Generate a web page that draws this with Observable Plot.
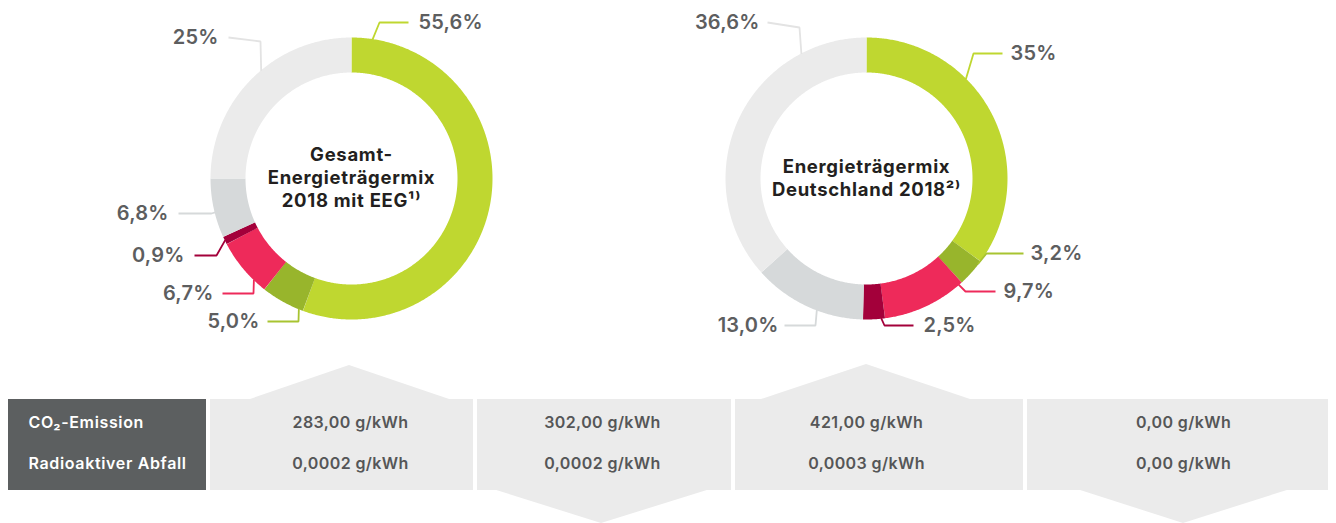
<!DOCTYPE html>
<html>
<head>
<meta charset="utf-8">
<script src="https://cdn.jsdelivr.net/npm/d3@7"></script>
<script src="https://cdn.jsdelivr.net/npm/@observablehq/plot@0.6"></script>
<style>
  html, body { margin: 0; padding: 0; background: #ffffff; }
  #chart svg { display: block; }
</style>
</head>
<body>
<div id="chart"></div>
<script>
// ---------------- DATA ----------------
const segments = ["Grün", "Olivgrün", "Rot", "Dunkelrot", "Grau", "Hellgrau"];
const mixEEG = [55.6, 5.0, 6.7, 0.9, 6.8, 25];
const mixDE = [35, 3.2, 9.7, 2.5, 13.0, 36.6];
const labelsEEG = ["55,6%", "5,0%", "6,7%", "0,9%", "6,8%", "25%"];
const labelsDE = ["35%", "3,2%", "9,7%", "2,5%", "13,0%", "36,6%"];
const donutTitles = ["Gesamt-\nEnergieträgermix\n2018 mit EEG¹⁾", "Energieträgermix\nDeutschland 2018²⁾"];
const rowLabels = ["CO₂-Emission", "Radioaktiver Abfall"];
const co2Values = ["283,00 g/kWh", "302,00 g/kWh", "421,00 g/kWh", "0,00 g/kWh"];
const wasteValues = ["0,0002 g/kWh", "0,0002 g/kWh", "0,0003 g/kWh", "0,00 g/kWh"];

// ---------------- STYLE / LAYOUT ----------------
const W = 1336, H = 523;
const FONT = "Inter, 'Open Sans', 'DejaVu Sans', sans-serif";
const palette = ["#bfd730", "#98b52c", "#ee2a5a", "#a3003a", "#d6d9da", "#ebebeb"];
const leaderPalette = ["#bfd730", "#a8c431", "#ee2a5a", "#a3003a", "#d6d9da", "#e3e3e3"];
const labelColor = "#5d5e5f";
const R_OUT = 141, R_IN = 106;
const TITLE_SIZE = 18.5, LABEL_SIZE = 20, TABLE_SIZE = 16, ROWLABEL_SIZE = 16.01;
const donuts = [
  {cx: 351, cy: 178, values: mixEEG, labels: labelsEEG, title: donutTitles[0], titleY: 176.5},
  {cx: 866, cy: 178, values: mixDE, labels: labelsDE, title: donutTitles[1], titleY: 176.5}
];
const leaderLayout = [
  [
    {angle: 8.6, path: [[379, 22], [408, 22]], text: [418, 22], anchor: "start"},
    {angle: 202, path: [[298, 321], [267, 321]], text: [259, 321], anchor: "end"},
    {angle: 224, path: [[253, 293], [222, 293]], text: [213, 293], anchor: "end"},
    {angle: 244, path: [[216, 255], [194, 255]], text: [184, 255], anchor: "end"},
    {angle: 256, path: [[211, 213], [178, 213]], text: [168, 213], anchor: "end"},
    {angle: 320, path: [[260, 41], [228, 37]], text: [218, 37], anchor: "end"}
  ],
  [
    {angle: 45, path: [[973, 53], [1002, 53]], text: [1010, 53], anchor: "start"},
    {angle: 127.5, path: [[986, 253], [1023, 253]], text: [1030, 253], anchor: "start"},
    {angle: 139, path: [[965, 291], [995, 291]], text: [1003, 291], anchor: "start"},
    {angle: 174, path: [[884, 325], [913, 325]], text: [923, 325], anchor: "start"},
    {angle: 200.7, path: [[815, 325], [784, 325]], text: [778, 325], anchor: "end"},
    {angle: 332.4, path: [[799, 27], [767, 22]], text: [759, 22], anchor: "end"}
  ]
];
// table layout
const tableTop = 399, tableBottom = 490;
const rowY = [422, 463];
const headerBox = {x1: 8, x2: 206, textX: 28};
const cellX1 = [210, 477, 735, 1027];
const cellX2 = [473, 731, 1023, 1328];
const cellTextX = [350, 602, 866, 1183];
const arrows = [
  {dir: "up", x0: 247, xm: 349, x1: 452, tip: 365},
  {dir: "down", x0: 493, xm: 601, x1: 710, tip: 523},
  {dir: "up", x0: 758, xm: 866, x1: 973, tip: 364},
  {dir: "down", x0: 1077, xm: 1183, x1: 1290, tip: 523}
];

// ---------------- GEOMETRY HELPERS ----------------
const rad = a => a * Math.PI / 180;
const ringPoint = (d, r, a) => [d.cx + r * Math.sin(rad(a)), d.cy - r * Math.cos(rad(a))];

function arcPoints(d, r, a0, a1) {
  const n = Math.max(2, Math.ceil((a1 - a0) / 0.5));
  return d3.range(n + 1).map(i => {
    const [x, y] = ringPoint(d, r, a0 + (a1 - a0) * i / n);
    return {x, y};
  });
}

const marks = [];

// donut rings
donuts.forEach((d, di) => {
  const total = d3.sum(d.values);
  let acc = 0;
  const ranges = d.values.map(v => {
    const a0 = acc / total * 360;
    acc += v;
    return [a0, acc / total * 360];
  });
  ranges.forEach(([a0, a1], i) => {
    marks.push(Plot.line(arcPoints(d, (R_OUT + R_IN) / 2, a0, a1), {
      x: "x", y: "y", stroke: palette[i], strokeWidth: R_OUT - R_IN,
      strokeLinecap: "butt", strokeLinejoin: "round", curve: "linear"
    }));
  });
  // leaders + labels
  leaderLayout[di].forEach((L, i) => {
    const [a0, a1] = ranges[i];
    const m = Math.min(1, (a1 - a0) / 3);
    const ang = Math.max(a0 + m, Math.min(a1 - m, L.angle));
    const p0 = ringPoint(d, R_OUT - 0.5, ang);
    const pts = [p0, ...L.path].map(([x, y]) => ({x, y}));
    marks.push(Plot.line(pts, {x: "x", y: "y", stroke: leaderPalette[i], strokeWidth: 1.8,
      strokeLinecap: "butt", strokeLinejoin: "miter", curve: "linear"}));
    marks.push(Plot.text([{x: L.text[0], y: L.text[1], t: d.labels[i]}], {
      x: "x", y: "y", text: "t", textAnchor: L.anchor, lineAnchor: "middle",
      fontSize: LABEL_SIZE, fontWeight: 600, fill: labelColor, fontFamily: FONT
    }));
  });
  // center title
  marks.push(Plot.text([{x: d.cx, y: d.titleY, t: d.title}], {
    x: "x", y: "y", text: "t", textAnchor: "middle", lineAnchor: "middle",
    lineHeight: 1.24, fontSize: TITLE_SIZE, fontWeight: 700, fill: "#231f20", fontFamily: FONT
  }));
});

// arrows (behind cells)
arrows.forEach(a => {
  const base = a.dir === "up" ? tableTop + 1 : tableBottom - 1;
  const pts = [{x: a.x0, y1: base, y2: base}, {x: a.xm, y1: base, y2: a.tip}, {x: a.x1, y1: base, y2: base}];
  marks.push(Plot.areaY(pts, {x: "x", y1: "y1", y2: "y2", fill: "#ebebeb", curve: "linear"}));
});

// header box
marks.push(Plot.rect([headerBox], {x1: "x1", x2: "x2", y1: () => tableTop, y2: () => tableBottom, fill: "#5c5f60"}));
marks.push(Plot.text(rowLabels.map((t, i) => ({x: headerBox.textX, y: rowY[i], t})), {
  x: "x", y: "y", text: "t", textAnchor: "start", lineAnchor: "middle",
  fontSize: ROWLABEL_SIZE, fontWeight: 600, fill: "#ffffff", fontFamily: FONT
}));

// cells
const cells = cellX1.map((x1, i) => ({x1, x2: cellX2[i], tx: cellTextX[i], co2: co2Values[i], waste: wasteValues[i]}));
marks.push(Plot.rect(cells, {x1: "x1", x2: "x2", y1: () => tableTop, y2: () => tableBottom, fill: "#ebebeb"}));
marks.push(Plot.text(cells, {x: "tx", y: () => rowY[0], text: "co2", textAnchor: "middle", lineAnchor: "middle",
  fontSize: TABLE_SIZE, fontWeight: 600, fill: "#555657", fontFamily: FONT}));
marks.push(Plot.text(cells, {x: "tx", y: () => rowY[1], text: "waste", textAnchor: "middle", lineAnchor: "middle",
  fontSize: TABLE_SIZE, fontWeight: 600, fill: "#555657", fontFamily: FONT}));

const chart = Plot.plot({
  width: W, height: H,
  margin: 0,
  x: {domain: [0, W], range: [0, W], axis: null},
  y: {domain: [0, H], range: [0, H], axis: null},
  style: {background: "#ffffff", fontFamily: FONT, overflow: "visible"},
  marks
});
// widen letter spacing to approach the reference's wide geometric typeface
const spacing = {[TITLE_SIZE]: "0.7px", [TABLE_SIZE]: "0.4px", [ROWLABEL_SIZE]: "0.65px", [LABEL_SIZE]: "0.2px"};
d3.select(chart).selectAll("g[font-size]").each(function () {
  const fs = this.getAttribute("font-size");
  if (spacing[fs]) this.setAttribute("letter-spacing", spacing[fs]);
});
document.getElementById("chart").appendChild(chart);
</script>
</body>
</html>
